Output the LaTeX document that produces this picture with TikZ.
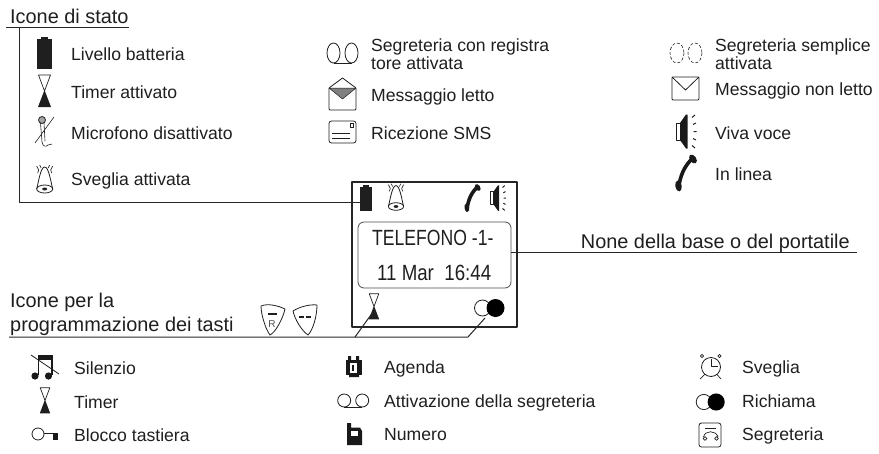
\documentclass[tikz,border=0pt]{standalone}
\usepackage{fontspec}
\setmainfont{Liberation Sans}
\begin{document}
\begin{tikzpicture}[x=1pt, y=-1pt, line join=round]
	\useasboundingbox (0, 0) rectangle (879, 453);
	\tikzset{
		lbl/.style={anchor=base west, inner sep=0pt, text=black!88, font=\fontsize{17.6}{17.6}\selectfont},
		big/.style={anchor=base west, inner sep=0pt, text=black!88, font=\fontsize{19.9}{19.9}\selectfont},
		ink/.style={line width=0.8pt, draw=black!88},
		lnk/.style={line width=1pt, draw=black!85},
		hourglass/.pic={
			\draw[ink, line width=0.7pt] (-6, -16) -- (6, -16) -- (0, 0) -- cycle;
			\fill[black!88] (0, -1) -- (6.5, 16) -- (-6.5, 16) -- cycle;
		},
		bell/.pic={
			\draw[ink] (-8, 10) .. controls (-6, 2) and (-4, -12) .. (0, -12) .. controls (4, -12) and (6, 2) .. (8, 10);
			\draw[ink] (0, 10) ellipse [x radius=8, y radius=4];
			\fill[black!88] (0, 10) ellipse [x radius=2.5, y radius=1.5];
			\draw[ink, line width=0.6pt] (-8, -13) -- (-6, -9) -- (-7, -6) (8, -13) -- (6, -9) -- (7, -6);
			\draw[ink, line width=0.6pt] (-5, -14) -- (-3.5, -11) (5, -14) -- (3.5, -11);
		},
		battery/.pic={
			\fill[black!88] (-7.5, -14) rectangle (7.5, 16);
			\fill[black!88] (-3.5, -16) rectangle (3.5, -14);
		},
		handset/.pic={
			\draw[black!90, line width=3.6pt, line cap=round] (7, -15) .. controls (-1, -8) and (-6, 2) .. (-7.5, 16);
			\fill[black!90, rotate around={35:(7, -14)}] (7, -14) ellipse [x radius=3.2, y radius=5];
			\fill[black!90, rotate around={10:(-7.5, 13)}] (-7.5, 13) ellipse [x radius=3.2, y radius=5.5];
		},
		speaker/.pic={
			\draw[ink] (-10, -8.5) rectangle (-6, 8.5);
			\fill[black!90] (-6, -8.5) -- (0, -17) -- (1.5, -17) -- (1.5, 17) -- (0, 17) -- (-6, 8.5) -- cycle;
			\draw[ink, line width=1pt] (6, -14) -- (9, -16.5) (7, -7) -- (10, -8.5) (7.5, 0) -- (10.5, 0) (7, 7) -- (10, 8.5) (6, 14) -- (9, 16.5);
		},
		rings/.pic={
			\draw[ink] (-6.5, 0) circle [radius=8];
			\fill[black] (6.5, 0) circle [radius=9];
		},
		shell/.pic={
			\draw[ink] (-9, 0) ellipse [x radius=6.5, y radius=10];
			\draw[ink] (9, 0) ellipse [x radius=6.5, y radius=10];
			\draw[ink] (-9, 10) -- (9, 10);
		}
	};

	% icone di stato
	\node[big] (titolo) at (10, 23) {Icone di stato};
	\node[lbl] (l1) at (71, 60.5) {Livello batteria};
	\node[lbl] (l2) at (71, 98) {Timer attivato};
	\node[lbl] (l3) at (71, 139) {Microfono disattivato};
	\node[lbl] (l4) at (71, 185) {Sveglia attivata};
	\node[lbl, align=left, anchor=west, font=\fontsize{17.6}{17.5}\selectfont] (c1) at (371, 54) {Segreteria con registra\\tore attivata};
	\node[lbl] (c2) at (371, 101) {Messaggio letto};
	\node[lbl] (c3) at (371, 139) {Ricezione SMS};
	\node[lbl, align=left, anchor=west, font=\fontsize{17.6}{17.5}\selectfont] (r1) at (715, 54) {Segreteria semplice\\attivata};
	\node[lbl] (r2) at (715, 95) {Messaggio non letto};
	\node[lbl] (r3) at (715, 139) {Viva voce};
	\node[lbl] (r4) at (715, 180) {In linea};

	\pic at (44.5, 53) {battery};
	\pic at (44.5, 91) {hourglass};
	\draw[ink, fill=black!35] (42, 120) circle [radius=3.5];
	\draw[ink, line width=0.6pt] (40.5, 123) -- (42, 142) .. controls (43, 147) and (46, 147) .. (48, 145) -- (52, 144);
	\draw[ink, line width=0.6pt] (44, 123) -- (45, 141);
	\draw[ink, line width=0.6pt] (35, 143) -- (54, 117);
	\pic at (44.7, 179) {bell};

	\pic at (342.5, 53) {shell};
	\draw[ink] (329, 88) -- (342.5, 78) -- (356, 88) (329, 88) -- (329, 108) [rounded corners=1pt] -- (329, 110) -- (356, 110) -- (356, 88);
	\fill[black!50, draw=black!88, line width=0.5pt] (329, 88) -- (356, 88) -- (342.5, 99) -- cycle;
	\draw[ink, rounded corners=2.5pt] (329, 121) rectangle (356, 143);
	\draw[ink, line width=0.6pt] (332, 133) -- (350, 133) (332, 138) -- (350, 138);
	\draw[ink, line width=0.6pt] (350, 123) rectangle (353, 127);

	\draw[ink, line width=0.6pt, densely dashed] (677, 53) ellipse [x radius=7, y radius=10];
	\draw[ink, line width=0.6pt, densely dashed] (695, 53) ellipse [x radius=7, y radius=10];
	\draw[ink, rounded corners=1pt] (672, 77) rectangle (699, 100);
	\draw[ink] (672, 77) -- (685.5, 90) -- (699, 77);
	\pic at (686, 131.5) {speaker};
	\pic at (686, 173) {handset};

	% telefono
	\draw[line width=1.6pt, draw=black!85] (352, 182) rectangle (517, 327);
	\draw[ink, rounded corners=6pt, draw=black!70] (358, 222) rectangle (511, 288);
	\node[big, xscale=.8, font=\fontsize{22}{22}\selectfont] (nome) at (372, 245) {TELEFONO -1-};
	\node[big, xscale=.85, font=\fontsize{22}{22}\selectfont] (data) at (377, 280) {11 Mar\ \ 16:44};
	\pic[scale=.8] at (366, 198) {battery};
	\pic[scale=.95] at (396, 197) {bell};
	\pic[scale=.75] at (472.5, 198) {handset};
	\pic[scale=.75] at (498, 198) {speaker};
	\pic[scale=.8] at (374, 306.5) {hourglass};
	\pic at (489, 308) {rings};
	\coordinate (batt) at (362, 202);
	\coordinate (disp) at (511, 252.5);
	\coordinate (clessidra) at (373, 312);
	\coordinate (anelli) at (485, 318);

	% collegamenti
	\coordinate (t0) at (6, 27);
	\coordinate (t1) at (129, 27);
	\coordinate (t2) at (19, 27);
	\coordinate (t3) at (19, 202);
	\draw[lnk] (t0) -- (t1);
	\draw[lnk] (t2) -- (t3) -- (batt);
	\coordinate (n1) at (857, 252.5);
	\draw[lnk] (disp) -- (n1);
	\node[big] (base) at (580.7, 248) {None della base o del portatile};
	\coordinate (p0) at (9, 337);
	\coordinate (p1) at (355, 337);
	\coordinate (p2) at (468, 337);
	\draw[lnk] (p0) -- (p2) -- (anelli);
	\draw[lnk] (p1) -- (clessidra);

	% icone per i tasti
	\node[big] (tasti1) at (10, 307) {Icone per la};
	\node[big] (tasti2) at (10, 331) {programmazione dei tasti};
	\draw[ink] (261, 306) .. controls (268, 303) and (279, 306) .. (285, 309) .. controls (283, 318) and (276, 332) .. (270, 335) .. controls (266, 330) and (261, 315) .. (261, 306) -- cycle;
	\draw[line width=2pt, draw=black!88] (268, 313.5) -- (277, 313.5);
	\node[inner sep=0pt, text=black!70, font=\fontsize{10}{10}\selectfont] (tastoR) at (272, 324.5) {R};
	\draw[ink] (293, 311) .. controls (299, 307) and (310, 304) .. (317, 305) .. controls (317, 316) and (313, 330) .. (308, 335) .. controls (302, 331) and (295, 320) .. (293, 311) -- cycle;
	\draw[line width=1.6pt, draw=black!88] (299, 317) -- (304, 317) (306, 317) -- (311, 317);

	\node[lbl] (s1) at (74, 374) {Silenzio};
	\node[lbl] (s2) at (74, 408) {Timer};
	\node[lbl] (s3) at (74, 441) {Blocco tastiera};
	\node[lbl] (a1) at (384, 373.5) {Agenda};
	\node[lbl] (a2) at (384, 407.5) {Attivazione della segreteria};
	\node[lbl] (a3) at (384, 440.5) {Numero};
	\node[lbl] (d1) at (742, 373.5) {Sveglia};
	\node[lbl] (d2) at (742, 407.5) {Richiama};
	\node[lbl] (d3) at (742, 440.5) {Segreteria};

	% silenzio
	\fill[black!90] (38, 355) rectangle (52.5, 360);
	\draw[line width=1.2pt, draw=black!90] (38.5, 355) -- (38.5, 375) (52, 355) -- (52, 375);
	\fill[black!90] (35, 376) circle [radius=3.6] (48.5, 376) circle [radius=3.6];
	\draw[ink] (31, 355) -- (59, 374);
	\pic[scale=.8] at (45, 400.5) {hourglass};
	\draw[ink] (38, 434) circle [radius=6];
	\draw[ink] (44, 433) -- (54, 433);
	\fill[black!90] (53, 433) rectangle (58, 440);

	% agenda
	\fill[black!90] (346, 360) rectangle (362, 375);
	\fill[black!90] (348, 356) rectangle (351, 360) (356, 356) rectangle (359, 360) (349, 375) rectangle (359, 377);
	\fill[white] (349.5, 363) rectangle (357, 373);
	\fill[black!90] (351.5, 365) rectangle (354, 370.5);
	\pic[xscale=1, yscale=.65] at (353.2, 400.5) {shell};
	\fill[black!90] (347, 423) -- (351, 423) -- (351, 427.5) -- (360, 427.5) -- (362, 431) -- (362, 445) -- (347, 445) -- cycle;
	\fill[white] (351, 431) rectangle (358, 435.5);

	% sveglia
	\draw[ink] (711, 367) circle [radius=9.5];
	\draw[ink, line width=0.7pt] (711, 359) -- (711, 366) -- (718, 366);
	\draw[ink, line width=0.7pt] (705, 374) -- (700, 379) (716.5, 374) -- (721, 379);
	\draw[ink, line width=0.7pt] (702, 356) circle [radius=1.6] (719.5, 356) circle [radius=1.6];
	\pic[scale=.95] at (710, 402) {rings};
	\draw[ink, rounded corners=2.5pt] (699, 423) rectangle (721, 447);
	\draw[ink, line width=0.7pt] (705, 428) -- (716, 428);
	\draw[ink, line width=0.7pt] (703.5, 437) .. controls (705, 430) and (716, 430) .. (718, 437);
	\draw[ink, line width=0.7pt] (705, 438.5) circle [radius=1.8] (716.5, 438.5) circle [radius=1.8];
\end{tikzpicture}
\end{document}
